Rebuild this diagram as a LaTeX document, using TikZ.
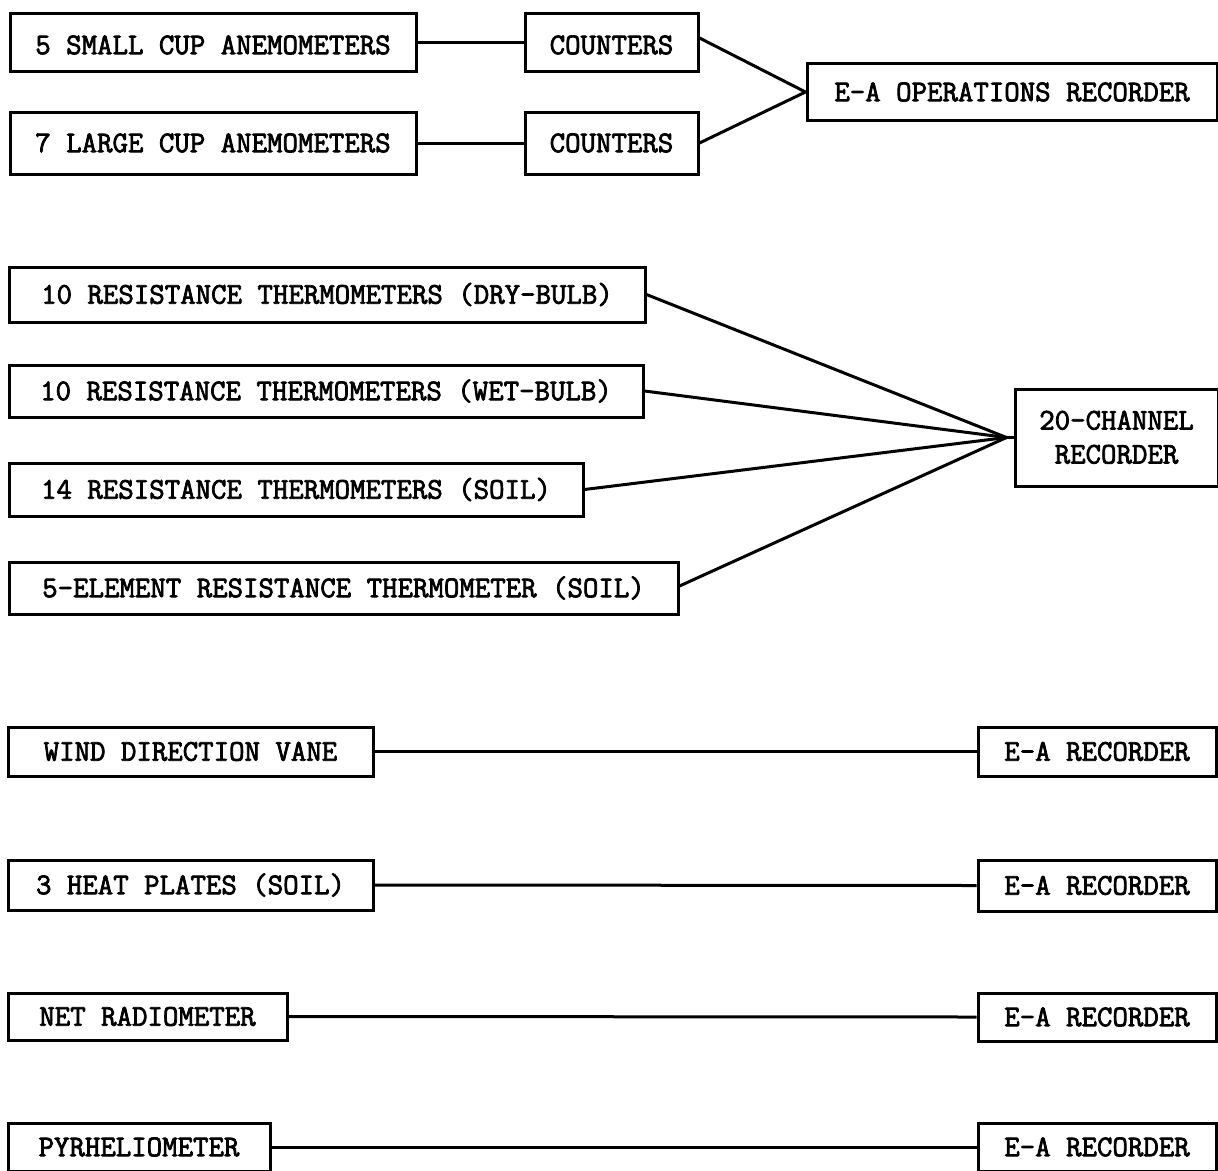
\documentclass[tikz,border=0pt]{standalone}
\usepackage{fontspec}
\setmonofont{Latin Modern Mono}[FakeBold=2.5]
\begin{document}
\begin{tikzpicture}[x=1pt,y=-1pt,
  blk/.style={draw, line width=3pt, inner sep=0pt, font=\ttfamily\fontsize{30}{34}\selectfont,
              text height=18.3pt, text depth=0pt, align=center},
  wire/.style={line width=3pt}]
\useasboundingbox (0,0) rectangle (1218,1170);
\fill[white] (0,0) rectangle (1218,1170);
\clip (0,0) rectangle (1218,1170);
% group 1
\node[blk, minimum width=406pt, minimum height=58pt, text height=24.3pt] (small) at (213,42) {5 SMALL CUP ANEMOMETERS};
\node[blk, minimum width=406pt, minimum height=62pt] (large) at (213,143) {7 LARGE CUP ANEMOMETERS};
\node[blk, minimum width=173pt, minimum height=58pt, text height=24.3pt] (cnt1) at (611.5,42) {COUNTERS};
\node[blk, minimum width=173pt, minimum height=62pt] (cnt2) at (611.5,143) {COUNTERS};
\node[blk, minimum width=410pt, minimum height=57pt] (ops) at (1012,92) {E-A OPERATIONS RECORDER};
\draw[wire] (small.east) -- (cnt1.west);
\draw[wire] (large.east) -- (cnt2.west);
\draw[wire] ([yshift=4pt]cnt1.east) -- (ops.west);
\draw[wire] (cnt2.east) -- (ops.west);
% group 2
\node[blk, minimum width=636pt, minimum height=55pt] (dry) at (327,294.5) {10 RESISTANCE THERMOMETERS (DRY-BULB)};
\node[blk, minimum width=634pt, minimum height=52pt] (wet) at (326,391) {10 RESISTANCE THERMOMETERS (WET-BULB)};
\node[blk, minimum width=574pt, minimum height=53pt] (soil) at (296,489.5) {14 RESISTANCE THERMOMETERS (SOIL)};
\node[blk, minimum width=669pt, minimum height=52pt] (five) at (343.5,588) {5-ELEMENT RESISTANCE THERMOMETER (SOIL)};
\node[blk, minimum width=203pt, minimum height=97pt, text height=52pt, text depth=0pt] (ch20) at (1116.5,437.5) {20-CHANNEL\\RECORDER};
\coordinate (hub) at ([xshift=-7pt]ch20.west);
\draw[wire] (dry.east) -- (hub);
\draw[wire] (wet.east) -- (hub);
\draw[wire] (soil.east) -- (hub);
\draw[wire] ([yshift=2pt]five.east) -- (hub);
\draw[wire] (hub) -- (ch20.west);
% group 3
\node[blk, minimum width=365pt, minimum height=49pt] (vane) at (190.5,751.5) {WIND DIRECTION VANE};
\node[blk, minimum width=238pt, minimum height=49pt] (ea1) at (1097,751.5) {E-A RECORDER};
\node[blk, minimum width=365pt, minimum height=50pt] (heat) at (190.5,885) {3 HEAT PLATES (SOIL)};
\node[blk, minimum width=238pt, minimum height=51pt] (ea2) at (1097,885.5) {E-A RECORDER};
\node[blk, minimum width=279pt, minimum height=47pt] (net) at (147.5,1016.5) {NET RADIOMETER};
\node[blk, minimum width=238pt, minimum height=48pt] (ea3) at (1097,1017) {E-A RECORDER};
\node[blk, minimum width=262pt, minimum height=48pt] (pyr) at (139,1147) {PYRHELIOMETER};
\node[blk, minimum width=238pt, minimum height=48pt] (ea4) at (1097,1147) {E-A RECORDER};
\draw[wire] (vane.east) -- (ea1.west);
\draw[wire] (heat.east) -- (ea2.west);
\draw[wire] (net.east) -- (ea3.west);
\draw[wire] (pyr.east) -- (ea4.west);
\end{tikzpicture}
\end{document}
